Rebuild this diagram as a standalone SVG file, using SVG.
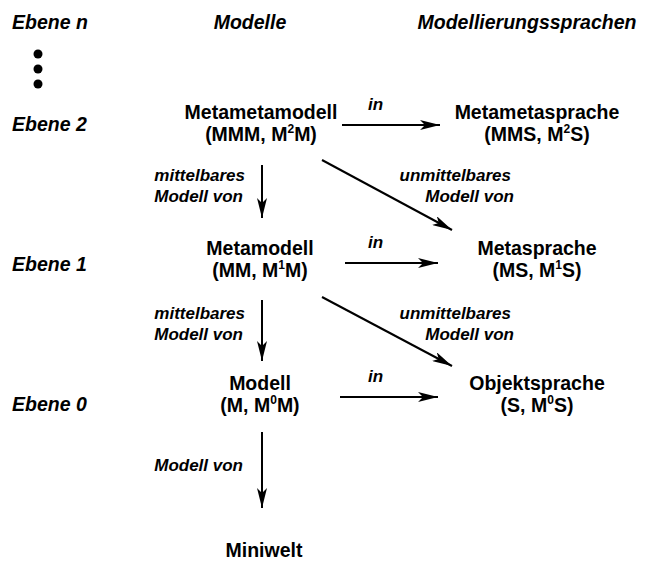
<svg xmlns="http://www.w3.org/2000/svg" width="651" height="562" viewBox="0 0 651 562">
<defs>
<marker id="ah" viewBox="0 0 20 10" refX="20" refY="5" markerWidth="20" markerHeight="10" markerUnits="userSpaceOnUse" orient="auto">
<path d="M0,0 L20,5 L0,10 L5,5 Z" fill="#000"/>
</marker>
<style>
text{font-family:"Liberation Sans",Arial,sans-serif;fill:#000}
.h{font-size:19.5px;font-weight:bold;font-style:italic}
.n{font-size:19.5px;font-weight:bold;text-anchor:middle}
.l{font-size:17px;font-weight:bold;font-style:italic}
.c{stroke:#000;stroke-width:2;fill:none;marker-end:url(#ah)}
.s{font-size:12px}
</style>
</defs>
<g id="headers">
<text class="h" x="12" y="29">Ebene n</text>
<text class="h" x="250" y="29" text-anchor="middle">Modelle</text>
<text class="h" x="527" y="29" text-anchor="middle">Modellierungssprachen</text>
<circle cx="38" cy="54" r="4.5"/>
<circle cx="38" cy="69" r="4.5"/>
<circle cx="38" cy="84" r="4.5"/>
<text class="h" x="12" y="131">Ebene 2</text>
<text class="h" x="12" y="271">Ebene 1</text>
<text class="h" x="12" y="411">Ebene 0</text>
</g>
<g id="n_mmm">
<text class="n" x="261" y="119">Metametamodell</text>
<text class="n" x="261" y="141">(MMM, M<tspan class="s" dy="-8">2</tspan><tspan dy="8">M)</tspan></text>
</g>
<g id="n_mms">
<text class="n" x="537" y="119">Metametasprache</text>
<text class="n" x="537" y="141">(MMS, M<tspan class="s" dy="-8">2</tspan><tspan dy="8">S)</tspan></text>
</g>
<g id="n_mm">
<text class="n" x="260" y="255">Metamodell</text>
<text class="n" x="260" y="277">(MM, M<tspan class="s" dy="-8">1</tspan><tspan dy="8">M)</tspan></text>
</g>
<g id="n_ms">
<text class="n" x="537" y="255">Metasprache</text>
<text class="n" x="537" y="277">(MS, M<tspan class="s" dy="-8">1</tspan><tspan dy="8">S)</tspan></text>
</g>
<g id="n_m">
<text class="n" x="260" y="390">Modell</text>
<text class="n" x="260" y="412">(M, M<tspan class="s" dy="-8">0</tspan><tspan dy="8">M)</tspan></text>
</g>
<g id="n_s">
<text class="n" x="537" y="390">Objektsprache</text>
<text class="n" x="537" y="412">(S, M<tspan class="s" dy="-8">0</tspan><tspan dy="8">S)</tspan></text>
</g>
<g id="n_mw">
<text class="n" x="264" y="557">Miniwelt</text>
</g>
<g id="connectors">
<line class="c" x1="342" y1="125" x2="440" y2="125"/>
<line class="c" x1="345" y1="263" x2="438" y2="263"/>
<line class="c" x1="340" y1="397" x2="438" y2="397"/>
<line class="c" x1="262" y1="165" x2="262" y2="218"/>
<line class="c" x1="262" y1="300" x2="262" y2="361"/>
<line class="c" x1="262" y1="432" x2="262" y2="508"/>
<line class="c" x1="322" y1="160" x2="452" y2="230"/>
<line class="c" x1="322" y1="297" x2="452" y2="366"/>
<text class="l" x="368" y="110">in</text>
<text class="l" x="368" y="248">in</text>
<text class="l" x="368" y="382">in</text>
<text class="l" x="245" y="181" text-anchor="end">mittelbares</text>
<text class="l" x="243" y="202" text-anchor="end">Modell von</text>
<text class="l" x="245" y="319" text-anchor="end">mittelbares</text>
<text class="l" x="243" y="340" text-anchor="end">Modell von</text>
<text class="l" x="243" y="471" text-anchor="end">Modell von</text>
<text class="l" x="511" y="181" text-anchor="end">unmittelbares</text>
<text class="l" x="514" y="202" text-anchor="end">Modell von</text>
<text class="l" x="511" y="319" text-anchor="end">unmittelbares</text>
<text class="l" x="514" y="340" text-anchor="end">Modell von</text>
</g>
</svg>
